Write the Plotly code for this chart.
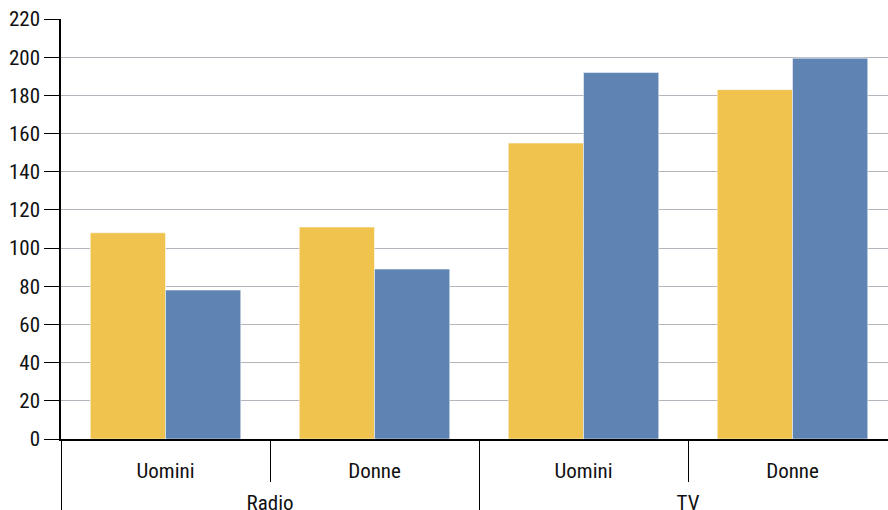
import plotly.graph_objects as go

media = ["Radio", "Radio", "TV", "TV"]
genere = ["Uomini", "Donne", "Uomini", "Donne"]
serie_gialla = [108, 111, 155, 183]
serie_blu = [78, 89, 192, 199.5]
y_ticks = list(range(0, 221, 20))

FONT = "Roboto Condensed, sans-serif"

x_multi = [["<br>" + m for m in media], genere]

fig = go.Figure()
fig.add_trace(go.Bar(x=x_multi, y=serie_gialla, marker_color="#F0C34E",
                     marker_line=dict(width=1, color="rgba(255,255,255,0.5)"), name="A"))
fig.add_trace(go.Bar(x=x_multi, y=serie_blu, marker_color="#5F84B4",
                     marker_line=dict(width=1, color="rgba(255,255,255,0.5)"), name="B"))

fig.update_layout(
    width=897, height=510,
    margin=dict(l=61, r=0, t=19, b=71, autoexpand=False),
    barmode="group", bargap=0.28, bargroupgap=0,
    showlegend=False,
    plot_bgcolor="white", paper_bgcolor="white",
    font=dict(family=FONT, size=21, color="#111"),
)
fig.update_yaxes(
    range=[0, 220], tickvals=y_ticks, showgrid=True, gridcolor="#B4B4BC", gridwidth=1,
    ticks="outside", ticklen=15, tickcolor="black", showline=True, linecolor="black",
    linewidth=1.5, zeroline=False, tickfont=dict(size=21), automargin=False,
)
fig.update_xaxes(
    type="multicategory", showline=True, linecolor="black", linewidth=1.5,
    showdividers=True, dividercolor="black", dividerwidth=1,
    ticks="outside", tickson="boundaries", ticklen=41, tickcolor="black",
    tickfont=dict(size=21), automargin=False, ticklabelstandoff=12,
)

post = """
document.body.style.margin='0';document.body.style.overflow='hidden';
(function(){
  var gd=document.getElementById('{plot_id}');
  function f(){
    document.querySelectorAll('g.xtick2').forEach(function(el){
      var t=el.getAttribute('transform')||'';
      if(t.indexOf('translate(0,-9)')<0){el.setAttribute('transform',t+' translate(0,-9)');}
    });
  }
  f();
  if(gd && gd.on){gd.on('plotly_afterplot',f);}
  setTimeout(f,50);
})();
"""
fig.write_html("out.html", config={"displayModeBar": False}, post_script=post)
